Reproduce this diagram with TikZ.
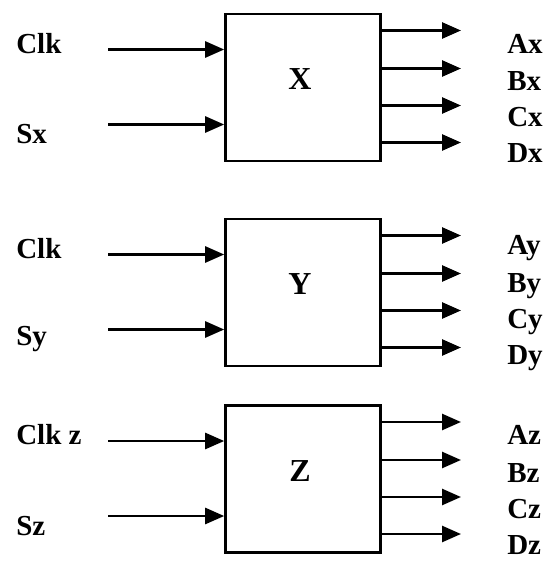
\documentclass[tikz,border=0pt]{standalone}
\usepackage{fontspec}
\setmainfont{Liberation Serif}
\usetikzlibrary{arrows.meta}
\begin{document}
\begin{tikzpicture}[x=1pt, y=-1pt, line width=2.6pt, >={Triangle[length=19pt, width=16pt]},
    block/.style={draw, minimum width=155pt, minimum height=147pt, inner sep=0pt},
    blockname/.style={inner sep=0pt, font=\fontsize{32}{32}\selectfont\bfseries},
    pinlabel/.style={anchor=west, inner sep=0pt, font=\fontsize{29}{29}\selectfont\bfseries}]
    \useasboundingbox (0,0) rectangle (550,562);
    % Three blocks, each with two inputs and four outputs
    \foreach \N/\n/\cy/\clk in {X/x/87.5/Clk, Y/y/292.5/Clk, Z/z/479/Clk z} {
        \node[block] (blk\n) at (303,\cy) {};
        \node[blockname] (name\n) at (300,\cy-8) {\N};
        \node[pinlabel] (clk\n) at (15,\cy-44) {\clk};
        \node[pinlabel] (s\n) at (15,\cy+47) {S\n};
        \coordinate (inclk\n) at (108,\cy-38);
        \coordinate (ins\n) at (108,\cy+37);
        \draw[->] (inclk\n) -- (inclk\n -| blk\n.west);
        \draw[->] (ins\n) -- (ins\n -| blk\n.west);
        \foreach \o/\dy/\ly in {A/-57/-44, B/-19/-6, C/18/30, D/55/66} {
            \coordinate (out\o\n) at (461,\cy+\dy);
            \draw[->] (out\o\n -| blk\n.east) -- (out\o\n);
            \node[pinlabel] (\o\n) at (506,\cy+\ly) {\o\n};
        }
    }
\end{tikzpicture}
\end{document}
